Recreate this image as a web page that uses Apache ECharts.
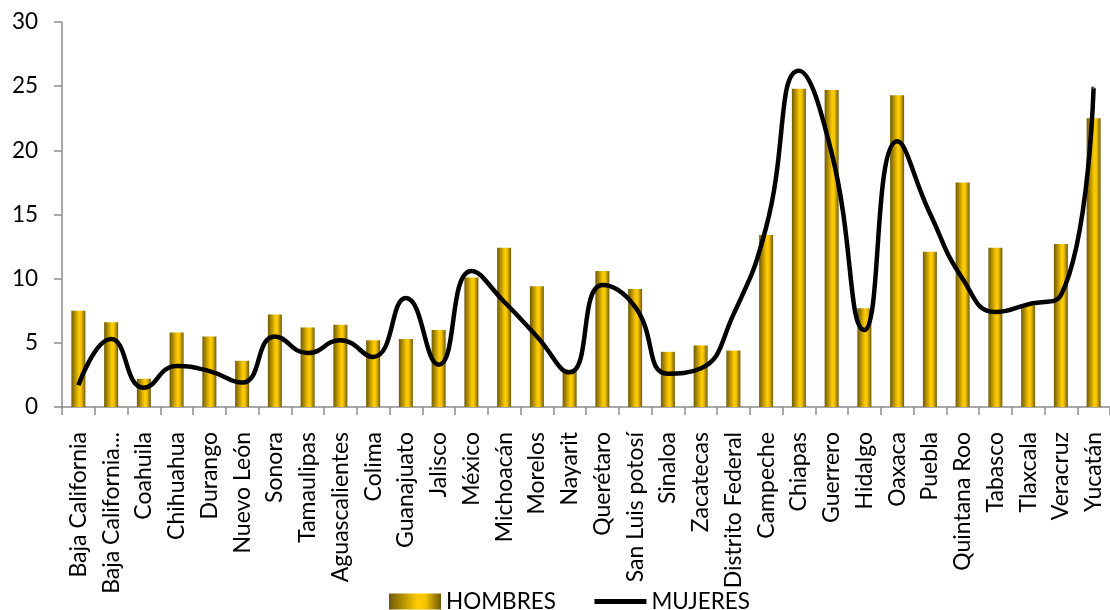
<!DOCTYPE html>
<html>
<head>
<meta charset="utf-8">
<script src="https://cdn.jsdelivr.net/npm/echarts@6/dist/echarts.min.js"></script>
<style>
  html, body { margin: 0; padding: 0; background: #fff; }
  #chart { width: 1110px; height: 610px; }
</style>
</head>
<body>
<div id="chart"></div>
<script>
// States of Mexico
const estados = [
  'Baja California', 'Baja California Sur', 'Coahuila', 'Chihuahua', 'Durango',
  'Nuevo León', 'Sonora', 'Tamaulipas', 'Aguascalientes', 'Colima',
  'Guanajuato', 'Jalisco', 'México', 'Michoacán', 'Morelos',
  'Nayarit', 'Querétaro', 'San Luis potosí', 'Sinaloa', 'Zacatecas',
  'Distrito Federal', 'Campeche', 'Chiapas', 'Guerrero', 'Hidalgo',
  'Oaxaca', 'Puebla', 'Quintana Roo', 'Tabasco', 'Tlaxcala',
  'Veracruz', 'Yucatán'
];

// Men (bars)
const hombres = [
  7.5, 6.6, 2.2, 5.8, 5.5, 3.6, 7.2, 6.2, 6.4, 5.2,
  5.3, 6.0, 10.1, 12.4, 9.4, 2.9, 10.6, 9.2, 4.3, 4.8,
  4.4, 13.4, 24.8, 24.7, 7.7, 24.3, 12.1, 17.5, 12.4, 7.9,
  12.7, 22.5
];

// Women (smoothed line)
const mujeres = [
  1.7, 5.3, 1.5, 3.2, 2.8, 1.9, 5.5, 4.2, 5.2, 3.9,
  8.5, 3.3, 10.6, 8.2, 5.5, 2.7, 9.5, 7.8, 2.6, 3.0,
  7.2, 14.0, 26.2, 19.8, 6.0, 20.7, 15.1, 10.0, 7.4, 8.0,
  8.7, 24.9
];

const yTicks = [0, 5, 10, 15, 20, 25, 30];

const fontFamily = 'Lato, "Liberation Sans", sans-serif';

const goldGradient = new echarts.graphic.LinearGradient(0, 0, 1, 0, [
  { offset: 0, color: '#6e5a08' },
  { offset: 0.55, color: '#ffcc00' },
  { offset: 0.7, color: '#f5c400' },
  { offset: 1, color: '#6e5a08' }
]);

const chart = echarts.init(document.getElementById('chart'), null, { renderer: 'canvas' });

chart.setOption({
  animation: false,
  backgroundColor: '#ffffff',
  textStyle: { fontFamily: fontFamily },
  grid: {
    left: 62,
    top: 22,
    width: 1051,
    bottom: 203,
    containLabel: false
  },
  legend: {
    top: 590,
    left: 389,
    padding: 0,
    itemWidth: 52,
    itemHeight: 16,
    itemGap: 36,
    textStyle: { fontFamily: fontFamily, fontSize: 22.5, color: '#000' },
    data: [
      { name: 'HOMBRES', icon: 'rect' },
      { name: 'MUJERES', itemStyle: { opacity: 0 }, lineStyle: { width: 5, color: '#000' } }
    ]
  },
  xAxis: {
    type: 'category',
    data: estados,
    boundaryGap: true,
    axisLine: { lineStyle: { color: '#8c8c8c', width: 1.5 } },
    axisTick: { show: true, length: 8, lineStyle: { color: '#8c8c8c', width: 1.5 } },
    axisLabel: {
      interval: 0,
      rotate: 90,
      fontSize: 23,
      color: '#000',
      fontFamily: fontFamily,
      margin: 25,
      formatter: function (v) {
        return v.length > 16 ? v.slice(0, 15) + '...' : v;
      }
    }
  },
  yAxis: {
    type: 'value',
    min: yTicks[0],
    max: yTicks[yTicks.length - 1],
    interval: yTicks[1] - yTicks[0],
    splitLine: { show: false },
    axisLine: { show: true, lineStyle: { color: '#8c8c8c', width: 1.5 } },
    axisTick: { show: true, length: 8, lineStyle: { color: '#8c8c8c', width: 1.5 } },
    axisLabel: {
      fontSize: 22.5,
      color: '#000',
      fontFamily: fontFamily,
      margin: 24
    }
  },
  series: [
    {
      name: 'HOMBRES',
      type: 'bar',
      data: hombres,
      barWidth: 14,
      itemStyle: { color: goldGradient }
    },
    {
      name: 'MUJERES',
      type: 'line',
      data: mujeres,
      smooth: 0.5,
      symbol: 'none',
      lineStyle: { color: '#000', width: 4.5 },
      itemStyle: { color: '#000' }
    }
  ]
});
</script>
</body>
</html>
